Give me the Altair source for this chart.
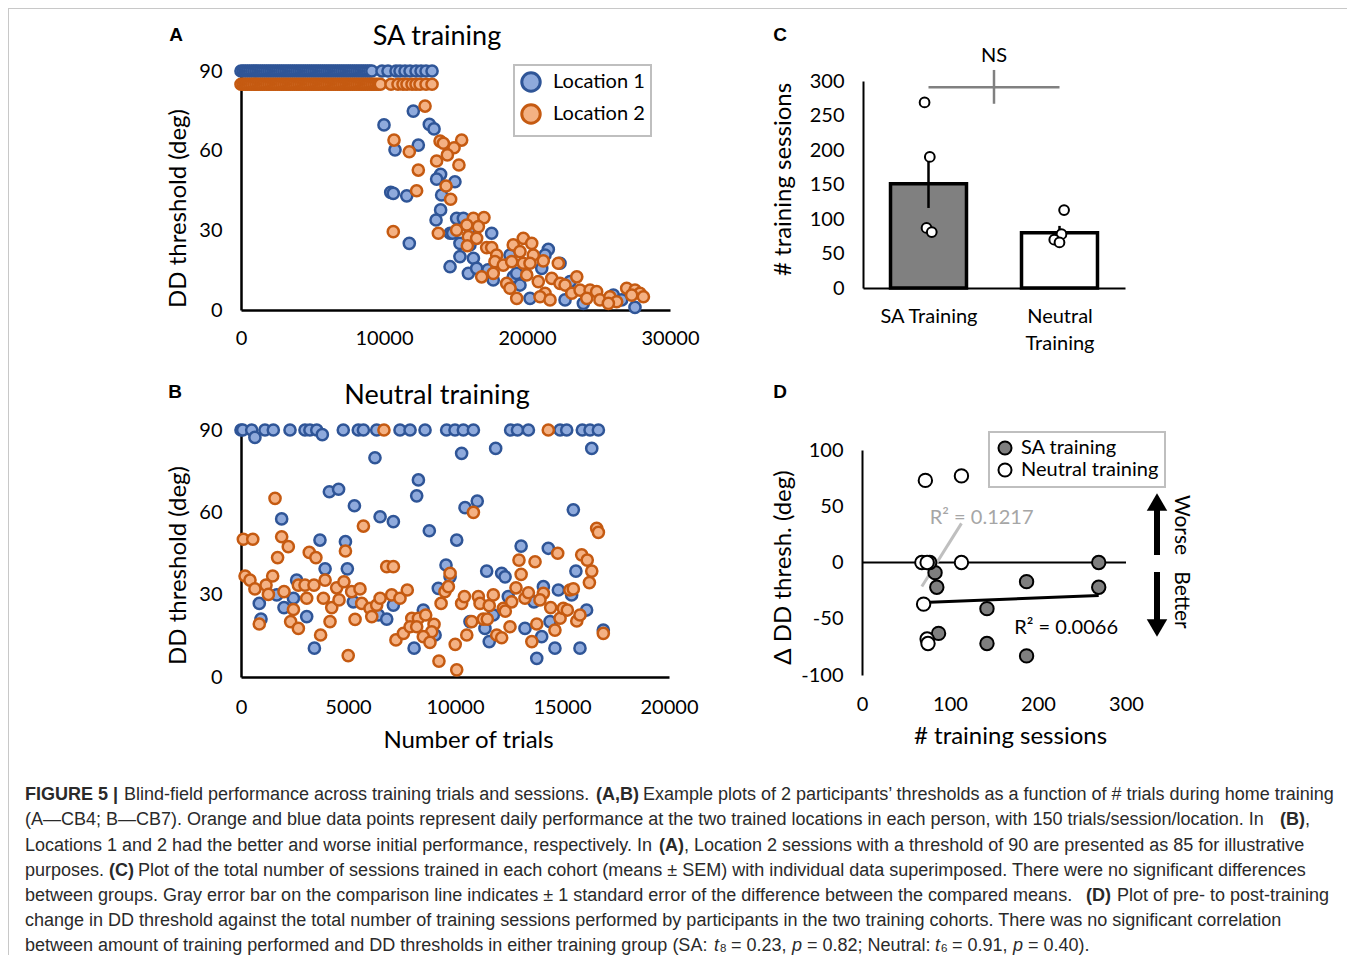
import altair as alt
import pandas as pd

W, H = 1339, 947
FONT = "Lato"
CFONT = "Liberation Sans"

# ===================== Panel A : SA training (CB4) =====================
a_loc1_ceiling = 90
a_loc2_ceiling = 85
a_loc1_ceiling_trials = [0, 150, 300, 450, 600, 750, 900, 1050, 1200, 1350, 1500, 1650, 1800, 1950,
                         2100, 2250, 2400, 2550, 2700, 2850, 3000, 3150, 3300, 3450, 3600, 3750, 3900,
                         4050, 4200, 4350, 4500, 4650, 4800, 4950, 5100, 5250, 5400, 5550, 5700, 5850,
                         6000, 6150, 6300, 6450, 6600, 6750, 6900, 7050, 7200, 7350, 7500, 7650, 7800,
                         7950, 8100, 8250, 8400, 8550, 8700, 8850, 9000, 9150,
                         9860, 10280, 10840, 11120, 11470, 11820, 12240, 12590, 12940, 13360]
a_loc2_ceiling_trials = [0, 150, 300, 450, 600, 750, 900, 1050, 1200, 1350, 1500, 1650, 1800, 1950,
                         2100, 2250, 2400, 2550, 2700, 2850, 3000, 3150, 3300, 3450, 3600, 3750, 3900,
                         4050, 4200, 4350, 4500, 4650, 4800, 4950, 5100, 5250, 5400, 5550, 5700, 5850,
                         6000, 6150, 6300, 6450, 6600, 6750, 6900, 7050, 7200, 7350, 7500, 7650, 7800,
                         7950, 8100, 8250, 8400, 8550, 8700, 8850, 9000, 9150, 9300, 9450, 9600, 9750,
                         10490, 10980, 11330, 11610, 11960, 12240, 12520, 12940, 13360]
a_loc1_trials = [12050, 10000, 13170, 13500, 10770, 12400, 13960, 13680, 14960, 10470, 10650, 11590,
                 14030, 13960, 13640, 11770, 14620, 15080, 15550, 15310, 16010, 17530, 15310, 14620,
                 16250, 15900, 16480, 17640, 18810, 19040, 19280, 21490, 20210, 21030, 22310, 22660,
                 23010, 23940, 26040, 27550, 17270, 19510, 26620, 16010, 21260, 14800]
a_loc1_thresh = [74.9, 69.7, 69.9, 68.2, 60.3, 62.1, 51.1, 49.3, 48.3, 44.3, 43.9, 43.0,
                 43.3, 37.7, 33.9, 25.1, 28.9, 34.5, 34.5, 25.1, 30.8, 28.9, 20.1, 16.3,
                 19.5, 13.8, 15.7, 11.3, 20.7, 12.5, 13.8, 22.8, 4.4, 15.7, 17.6, 3.8,
                 10.7, 2.5, 5.6, 1.0, 15.1, 9.4, 3.8, 24.5, 20.7, 28.9]
a_loc2_trials = [12870, 10700, 11770, 13920, 14150, 15430, 14900, 14430, 13680, 15240, 12400, 14340,
                 12280, 14660, 10650, 13800, 16250, 16990, 16600, 15790, 15080, 15900, 16480, 15830,
                 17180, 17530, 17880, 17760, 18340, 17640, 16830, 18930, 19740, 19040, 20330, 19510,
                 20440, 19740, 20210, 21140, 22190, 18580, 18810, 19280, 19980, 20790, 21260, 20910,
                 21730, 22310, 22660, 23480, 23130, 23710, 24410, 24870, 25100, 25800, 26270, 26970,
                 27550, 27900, 28140, 27320, 25690, 24180, 21610]
a_loc2_thresh = [76.8, 64.0, 59.6, 63.6, 62.8, 64.0, 61.1, 58.4, 56.1, 54.6, 52.7, 46.7,
                 44.9, 41.7, 29.5, 28.9, 34.5, 34.8, 31.4, 32.0, 30.1, 27.6, 27.0, 24.2,
                 23.5, 23.5, 20.7, 18.2, 16.9, 13.8, 12.5, 18.2, 27.0, 24.5, 25.1, 22.0,
                 20.7, 17.6, 17.6, 18.5, 17.6, 10.0, 8.2, 4.4, 13.2, 10.7, 6.3, 5.0,
                 11.9, 10.0, 9.4, 12.5, 6.3, 7.5, 7.5, 6.9, 3.8, 5.0, 3.1, 8.2,
                 7.5, 6.3, 5.0, 5.6, 2.5, 4.4, 3.8]

# ===================== Panel B : Neutral training (CB7) =====================
b_ceiling = 90
b_loc1_ceiling_trials = [0, 80, 500, 1120, 1510, 2290, 2990, 3220, 3540, 4780, 5480, 5720, 6340, 7430,
                         7900, 8600, 9610, 10000, 10390, 10860, 12600, 12920, 13430, 14910, 15220,
                         15950, 16310, 16700]
b_loc2_ceiling_trials = [6680, 14360]
b_loc1_trials = [650, 3800, 6260, 10310, 11900, 16390, 8290, 8210, 4130, 4560, 5300, 6500, 7120, 10470,
                 11040, 15530, 1900, 8800, 10080, 3690, 4880, 13090, 14360, 3930, 4970, 9580, 9770,
                 11480, 12180, 12340, 15650, 2600, 1670, 855, 2010, 2450, 935, 3070, 5250, 6420, 6810,
                 7120, 9220, 8520, 9070, 3430, 8090, 11600, 11790, 12490, 13270, 13690, 14130, 14830,
                 14050, 13820, 14670, 15840, 16150, 15450, 16930, 14440, 11400, 10700]
b_loc1_thresh = [87.3, 88.3, 79.9, 81.5, 83.3, 83.3, 71.8, 66.0, 67.5, 68.4, 62.4, 58.4, 56.6, 61.7,
                 64.1, 60.9, 57.6, 53.3, 49.9, 49.9, 49.3, 47.7, 46.9, 39.4, 39.4, 40.8, 36.5,
                 38.6, 37.8, 36.5, 38.6, 35.3, 29.9, 26.8, 25.3, 28.7, 21.1, 22.0, 27.4, 22.6, 21.1,
                 26.2, 32.3, 24.4, 15.3, 10.5, 10.5, 12.9, 22.6, 29.3, 17.7, 27.4, 32.9, 31.7,
                 14.7, 6.8, 10.5, 10.5, 24.4, 29.9, 17.1, 20.2, 17.7, 20.2]
b_loc2_trials = [1590, 110, 550, 1900, 2210, 1710, 5720, 10860, 3190, 3500, 4880, 6810, 7120, 9770,
                 16620, 16700, 14800, 12990, 13740, 13090, 15920, 16180, 16390, 16280, 15370, 15530,
                 190, 420, 650, 1170, 1480, 1280, 2010, 2680, 2990, 3410, 3930, 3070, 3850, 2450,
                 2320, 2680, 855, 3720, 4160, 4240, 4580, 4470, 4810, 5170, 5560, 5640, 5330, 5010,
                 6030, 6110, 6340, 6500, 7040, 7430, 7770, 7240, 7590, 7980, 8290, 7900, 8210, 8630,
                 9020, 8910, 8520, 8830, 9250, 10080, 10010, 9350, 9530, 9690, 10310, 10440, 10550,
                 10780, 11090, 11170, 11600, 11790, 11320, 11510, 11950, 12180, 12570, 12260, 12350,
                 12650, 12850, 13270, 13430, 13820, 14130, 13970, 14470, 14910, 14670, 15060, 15250,
                 15690, 15840, 13590, 16930]
b_loc2_thresh = [65.1, 50.2, 50.2, 51.1, 47.5, 43.5, 55.0, 60.0, 45.4, 43.5, 45.9, 40.2, 40.2, 37.8,
                 54.2, 52.7, 45.1, 42.6, 42.0, 37.4, 44.5, 42.6, 38.6, 34.4, 31.7, 32.1,
                 36.8, 35.3, 32.1, 33.5, 36.8, 30.1, 31.1, 33.5, 33.5, 33.5, 35.3, 28.7, 28.7, 24.6,
                 20.2, 17.7, 19.3, 15.3, 20.2, 25.3, 28.1, 32.5, 34.7, 31.1, 32.1, 26.8, 21.0, 7.8,
                 25.0, 22.0, 26.2, 28.7, 29.9, 28.7, 31.7, 13.5, 15.9, 21.4, 21.4, 18.3, 18.3, 22.6,
                 19.2, 16.5, 14.7, 12.6, 5.8, 2.6, 11.9, 26.8, 31.1, 32.9, 26.8, 29.3, 15.3,
                 20.2, 29.3, 26.8, 26.0, 29.9, 21.1, 21.1, 15.3, 14.3, 18.3, 25.0, 24.0,
                 27.4, 32.5, 28.7, 30.7, 19.3, 30.5, 28.1, 25.3, 21.4, 17.1, 25.0, 24.4,
                 20.4, 22.6, 12.9, 15.9]

locations = ["Location 1", "Location 2"]

# ===================== Panel C : sessions per cohort =====================
c_groups = ["SA Training", "Neutral Training"]
c_means = [151, 80]
c_sems = [35, 10]
c_sa_sessions = [269, 190, 87, 81]
c_sa_jitter = [-0.03, 0.01, -0.015, 0.025]
c_neu_sessions = [113, 78, 70, 66]
c_neu_jitter = [0.035, 0.015, -0.04, 0.0]
c_ns_y = 291
c_ns_tick = [267, 316]
c_ns_label_y = 336

# ===================== Panel D : change vs sessions =====================
d_groups = ["SA training", "Neutral training"]
d_sa_sessions = [269, 187, 269, 85, 83, 142, 87, 142, 187, 77]
d_sa_delta = [0, -17, -22, -22, -9, -41, -63, -72, -83, 0]
d_neu_sessions = [72, 113, 68, 74, 113, 70, 74, 75]
d_neu_delta = [73, 77, 0, 0, 0, -37, -68, -72]
d_r2_labels = ["R² = 0.1217", "R² = 0.0066"]

TICK_FS = 20
TITLE_FS = 24


def num_label():
    return "'' + datum.value"


def left_axis(xpix, values, title, title_x, title_y, dw=2.5):
    return alt.Axis(orient="left", offset=-xpix, values=values, ticks=False, grid=False,
                    domain=True, domainColor="black", domainWidth=dw,
                    labelFont=FONT, labelFontSize=TICK_FS, labelColor="black", labelPadding=19,
                    labelExpr=num_label(), labelOverlap=False,
                    title=title, titleFont=FONT, titleFontSize=TITLE_FS, titleFontWeight="normal",
                    titleColor="black", titleAngle=-90, titleX=title_x - xpix, titleY=title_y,
                    titleBaseline="middle", titleAlign="center")


def bottom_axis(ypix, values, title=None, title_x=0, title_y=0, domain=True, dw=2.5, pad=20):
    kw = dict(orient="bottom", offset=ypix - H, values=values, ticks=False, grid=False,
              domain=domain, domainColor="black", domainWidth=dw,
              labelFont=FONT, labelFontSize=TICK_FS, labelColor="black", labelPadding=pad,
              labelFlush=False, labelOverlap=False, labelExpr=num_label())
    if title:
        kw.update(title=title, titleFont=FONT, titleFontSize=TITLE_FS, titleFontWeight="normal",
                  titleColor="black", titleX=title_x, titleY=title_y - ypix,
                  titleBaseline="middle", titleAlign="center")
    else:
        kw["title"] = None
    return alt.Axis(**kw)


fill_scale = alt.Scale(domain=locations, range=["#8FAADC", "#F4B183"])
stroke_scale = alt.Scale(domain=locations, range=["#2F5597", "#C55A11"])


def scatter_df(c1x, c1v, p1x, p1y, c2x, c2v, p2x, p2y):
    rows = []
    rows += [(t, c1v, locations[0]) for t in c1x]
    rows += [(t, v, locations[0]) for t, v in zip(p1x, p1y)]
    rows += [(t, c2v, locations[1]) for t in c2x]
    rows += [(t, v, locations[1]) for t, v in zip(p2x, p2y)]
    return pd.DataFrame(rows, columns=["trials", "thr", "loc"])


PT_SIZE = 125

# ---------- Panel A chart ----------
a_df = scatter_df(a_loc1_ceiling_trials, a_loc1_ceiling, a_loc1_trials, a_loc1_thresh,
                  a_loc2_ceiling_trials, a_loc2_ceiling, a_loc2_trials, a_loc2_thresh)
legA = alt.Legend(title=None, orient="none", legendX=506, legendY=57, padding=6,
                  strokeColor="#bfbfbf", fillColor="white",
                  symbolType="circle", symbolSize=340, symbolStrokeWidth=3, symbolOpacity=1,
                  labelFont=FONT, labelFontSize=20, labelColor="black", rowPadding=0, labelOffset=11)
panelA = alt.Chart(a_df).mark_point(filled=True, size=PT_SIZE, strokeWidth=2.5, opacity=1).encode(
    x=alt.X("trials:Q", scale=alt.Scale(domain=[0, 30000], range=[233, 662], nice=False, zero=False),
            axis=bottom_axis(302, [0, 10000, 20000, 30000], pad=18)),
    y=alt.Y("thr:Q", scale=alt.Scale(domain=[0, 90], range=[302, 63], nice=False, zero=False),
            axis=left_axis(233, [0, 30, 60, 90], "DD threshold (deg)", 170, 200)),
    fill=alt.Fill("loc:N", scale=fill_scale, legend=legA),
    stroke=alt.Stroke("loc:N", scale=stroke_scale, legend=legA),
)

# ---------- Panel B chart ----------
b_df = scatter_df(b_loc1_ceiling_trials, b_ceiling, b_loc1_trials, b_loc1_thresh,
                  b_loc2_ceiling_trials, b_ceiling, b_loc2_trials, b_loc2_thresh)
panelB = alt.Chart(b_df).mark_point(filled=True, size=PT_SIZE, strokeWidth=2.5, opacity=1).encode(
    x=alt.X("trials:Q", scale=alt.Scale(domain=[0, 20000], range=[233, 661], nice=False, zero=False),
            axis=bottom_axis(669, [0, 5000, 10000, 15000, 20000], "Number of trials", 460, 732, pad=20)),
    y=alt.Y("thr:Q", scale=alt.Scale(domain=[0, 90], range=[669, 422], nice=False, zero=False),
            axis=left_axis(233, [0, 30, 60, 90], "DD threshold (deg)", 170, 557)),
    fill=alt.Fill("loc:N", scale=fill_scale, legend=None),
    stroke=alt.Stroke("loc:N", scale=stroke_scale, legend=None),
)

# ---------- Panel C chart ----------
BAR_HALF = 0.29
c_bar_rows, c_err_rows, c_pt_rows = [], [], []
for i, g in enumerate(c_groups):
    center = i + 0.5
    c_bar_rows.append(dict(cx=center - BAR_HALF, cx2=center + BAR_HALF, cy=c_means[i], cy2=0, grp=g))
    c_err_rows.append(dict(cx=center, cy=c_means[i] - c_sems[i], cy2=c_means[i] + c_sems[i]))
for v, j in zip(c_sa_sessions, c_sa_jitter):
    c_pt_rows.append(dict(cx=0.5 + j, cy=v))
for v, j in zip(c_neu_sessions, c_neu_jitter):
    c_pt_rows.append(dict(cx=1.5 + j, cy=v))
c_bars_df = pd.DataFrame(c_bar_rows)
c_err_df = pd.DataFrame(c_err_rows)
c_pts_df = pd.DataFrame(c_pt_rows)
c_ns_h = pd.DataFrame([dict(cx=0.5, cx2=1.5, cy=c_ns_y)])
c_ns_v = pd.DataFrame([dict(cx=1.0, cy=c_ns_tick[0], cy2=c_ns_tick[1])])
c_ns_t = pd.DataFrame([dict(cx=1.0, cy=c_ns_label_y, t="NS")])

c_xs = alt.Scale(domain=[0, 2], range=[855, 1117], nice=False, zero=False)
c_ys = alt.Scale(domain=[0, 300], range=[280, 73], nice=False, zero=False)
c_xax = alt.Axis(orient="bottom", offset=280 - H, values=[0.5, 1.5], ticks=False, grid=False,
                 domain=True, domainColor="black", domainWidth=2,
                 labelExpr="datum.value < 1 ? 'SA Training' : ['Neutral', 'Training']",
                 labelFont=FONT, labelFontSize=20, labelColor="black", labelPadding=18,
                 labelLineHeight=27, labelFlush=False, labelOverlap=False, title=None)
c_yax = left_axis(855, [0, 50, 100, 150, 200, 250, 300], "# training sessions", 775, 171, dw=2)


def cx():
    return alt.X("cx:Q", scale=c_xs, axis=c_xax)


def cy():
    return alt.Y("cy:Q", scale=c_ys, axis=c_yax)


c_bars = alt.Chart(c_bars_df).mark_rect(stroke="black", strokeWidth=3.5).encode(
    x=cx(), x2="cx2:Q", y=cy(), y2="cy2:Q",
    fill=alt.Fill("grp:N", scale=alt.Scale(domain=c_groups, range=["#808080", "white"]), legend=None))
c_err = alt.Chart(c_err_df).mark_rule(color="black", strokeWidth=2.5).encode(x=cx(), y=cy(), y2="cy2:Q")
c_pts = alt.Chart(c_pts_df).mark_point(filled=True, fill="white", stroke="black", strokeWidth=2,
                                       size=95, opacity=1).encode(x=cx(), y=cy())
c_nsh = alt.Chart(c_ns_h).mark_rule(color="#808080", strokeWidth=2.5).encode(x=cx(), x2="cx2:Q", y=cy())
c_nsv = alt.Chart(c_ns_v).mark_rule(color="#808080", strokeWidth=2.5).encode(x=cx(), y=cy(), y2="cy2:Q")
c_nst = alt.Chart(c_ns_t).mark_text(font=FONT, fontSize=20, color="black").encode(x=cx(), y=cy(), text="t:N")
panelC = alt.layer(c_bars, c_err, c_pts, c_nsh, c_nsv, c_nst)

# ---------- Panel D chart ----------
d_rows = [(x, y, d_groups[0]) for x, y in zip(d_sa_sessions, d_sa_delta)] + \
         [(x, y, d_groups[1]) for x, y in zip(d_neu_sessions, d_neu_delta)]
d_df = pd.DataFrame(d_rows, columns=["sessions", "delta", "grp"])
d_xs = alt.Scale(domain=[0, 300], range=[854, 1118], nice=False, zero=False)
d_ys = alt.Scale(domain=[-100, 100], range=[667, 442], nice=False, zero=False)
d_xax = bottom_axis(667, [0, 100, 200, 300], "# training sessions", 1002, 728, domain=False, pad=19)
d_yax = left_axis(854, [-100, -50, 0, 50, 100], "Δ DD thresh. (deg)", 775, 559, dw=2)


def dx(f="sessions"):
    return alt.X(f + ":Q", scale=d_xs, axis=d_xax)


def dy(f="delta"):
    return alt.Y(f + ":Q", scale=d_ys, axis=d_yax)


d_zero = alt.Chart(pd.DataFrame([dict(sessions=0, s2=300, delta=0)])).mark_rule(
    color="black", strokeWidth=2).encode(x=dx(), x2="s2:Q", y=dy())
d_reg_sa = alt.Chart(d_df).transform_filter(alt.datum.grp == d_groups[0]).transform_regression(
    "sessions", "delta").mark_line(color="black", strokeWidth=3).encode(x=dx(), y=dy())
d_reg_neu = alt.Chart(d_df).transform_filter(alt.datum.grp == d_groups[1]).transform_regression(
    "sessions", "delta").mark_line(color="#bfbfbf", strokeWidth=3).encode(x=dx(), y=dy())
legD = alt.Legend(title=None, orient="none", legendX=981, legendY=424, padding=6,
                  strokeColor="#bfbfbf", fillColor="white",
                  symbolType="circle", symbolSize=170, symbolStrokeColor="black",
                  symbolStrokeWidth=2, symbolOpacity=1,
                  labelFont=FONT, labelFontSize=20, labelColor="black", rowPadding=0, labelOffset=6)
d_pts = alt.Chart(d_df).mark_point(filled=True, size=180, stroke="black", strokeWidth=2, opacity=1).encode(
    x=dx(), y=dy(),
    fill=alt.Fill("grp:N", scale=alt.Scale(domain=d_groups, range=["#7f7f7f", "white"]), legend=legD))
d_r2_df = pd.DataFrame([dict(sessions=77, delta=40, t=d_r2_labels[0]),
                        dict(sessions=173, delta=-58, t=d_r2_labels[1])])
d_r2a = alt.Chart(d_r2_df.iloc[[0]]).mark_text(font=FONT, fontSize=20, color="#a6a6a6", align="left").encode(
    x=dx(), y=dy(), text="t:N")
d_r2b = alt.Chart(d_r2_df.iloc[[1]]).mark_text(font=FONT, fontSize=20, color="black", align="left").encode(
    x=dx(), y=dy(), text="t:N")
panelD = alt.layer(d_zero, d_reg_sa, d_reg_neu, d_pts, d_r2a, d_r2b)

# ---------- annotations (titles, panel letters, arrows) ----------
one = pd.DataFrame({"k": [0]})


def label(txt, x, y, size=20, font=FONT, weight="normal", angle=0, color="black", align="center"):
    return alt.Chart(one).mark_text(text=txt, font=font, fontSize=size, fontWeight=weight, angle=angle,
                                    color=color, align=align, baseline="middle").encode(
        x=alt.value(x), y=alt.value(y))


annots = [
    label("SA training", 429, 29, size=27),
    label("Neutral training", 429, 388, size=27),
    label("A", 168, 27, size=19, font=CFONT, weight="bold"),
    label("B", 167, 384, size=19, font=CFONT, weight="bold"),
    label("C", 772, 27, size=19, font=CFONT, weight="bold"),
    label("D", 772, 384, size=19, font=CFONT, weight="bold"),
    label("Worse", 1173, 517, size=21, angle=90),
    label("Better", 1173, 592, size=21, angle=90),
    alt.Chart(one).mark_rule(color="black", strokeWidth=6).encode(
        x=alt.value(1149), y=alt.value(500), y2=alt.value(547)),
    alt.Chart(one).mark_point(shape="triangle-up", filled=True, color="black", size=420, opacity=1).encode(
        x=alt.value(1149), y=alt.value(494)),
    alt.Chart(one).mark_rule(color="black", strokeWidth=6).encode(
        x=alt.value(1149), y=alt.value(564), y2=alt.value(612)),
    alt.Chart(one).mark_point(shape="triangle-down", filled=True, color="black", size=420, opacity=1).encode(
        x=alt.value(1149), y=alt.value(620)),
    # figure frame
    alt.Chart(one).mark_rule(color="#c8c8c8", strokeWidth=1).encode(
        x=alt.value(0), x2=alt.value(W), y=alt.value(0.5)),
    alt.Chart(one).mark_rule(color="#c8c8c8", strokeWidth=1).encode(
        x=alt.value(0.5), y=alt.value(0), y2=alt.value(H)),
]

# ---------- caption ----------
cap_line_y = [787, 812, 838, 863, 888, 913, 938]
caption_segments = [
    (0, 17, "FIGURE 5 |", "bold"),
    (0, 116, "Blind-field performance across training trials and sessions.", "normal"),
    (0, 588, "(A,B)", "bold"),
    (0, 635, "Example plots of 2 participants\u2019 thresholds as a function of # trials during home training", "normal"),
    (1, 17, "(A\u2014CB4; B\u2014CB7). Orange and blue data points represent daily performance at the two trained locations in each person, with 150 trials/session/location. In", "normal"),
    (1, 1272, "(B)", "bold"),
    (1, 1297, ",", "normal"),
    (2, 17, "Locations 1 and 2 had the better and worse initial performance, respectively. In", "normal"),
    (2, 651, "(A)", "bold"),
    (2, 676, ", Location 2 sessions with a threshold of 90 are presented as 85 for illustrative", "normal"),
    (3, 17, "purposes.", "normal"),
    (3, 101, "(C)", "bold"),
    (3, 130, "Plot of the total number of sessions trained in each cohort (means \u00b1 SEM) with individual data superimposed. There were no significant differences", "normal"),
    (4, 17, "between groups. Gray error bar on the comparison line indicates \u00b1 1 standard error of the difference between the compared means.", "normal"),
    (4, 1078, "(D)", "bold"),
    (4, 1109, "Plot of pre- to post-training", "normal"),
    (5, 17, "change in DD threshold against the total number of training sessions performed by participants in the two training cohorts. There was no significant correlation", "normal"),
    (6, 17, "between amount of training performed and DD thresholds in either training group (SA:", "normal"),
    (6, 706, "t", "italic"),
    (6, 712, "8", "sub"),
    (6, 723, "= 0.23,", "normal"),
    (6, 784, "p", "italic"),
    (6, 799, "= 0.82; Neutral:", "normal"),
    (6, 927, "t", "italic"),
    (6, 933, "6", "sub"),
    (6, 944, "= 0.91,", "normal"),
    (6, 1005, "p", "italic"),
    (6, 1020, "= 0.40).", "normal"),
]
cap_df = pd.DataFrame([dict(px=x, py=cap_line_y[l], text=t, style=s) for l, x, t, s in caption_segments])


def cap_layer(style, size=18, dy=0, **kw):
    return alt.Chart(cap_df[cap_df["style"] == style]).mark_text(
        align="left", baseline="middle", font=CFONT, fontSize=size, color="#2a2a2a", dy=dy, **kw).encode(
        x=alt.X("px:Q", scale=None, axis=None), y=alt.Y("py:Q", scale=None, axis=None), text="text:N")


caption = [cap_layer("normal"), cap_layer("bold", fontWeight="bold"),
           cap_layer("italic", fontStyle="italic"), cap_layer("sub", size=11.5, dy=3)]

chart = alt.layer(panelA, panelB, panelC, panelD, *annots, *caption).resolve_scale(
    x="independent", y="independent", fill="independent", stroke="independent"
).resolve_axis(x="independent", y="independent").resolve_legend(
    fill="independent", stroke="independent"
).properties(
    width=W, height=H, padding=0, autosize=alt.AutoSizeParams(type="none")
).configure_view(stroke=None).configure_legend(strokeWidth=2)

chart.save("out.html", embed_options={"renderer": "svg", "actions": False})
